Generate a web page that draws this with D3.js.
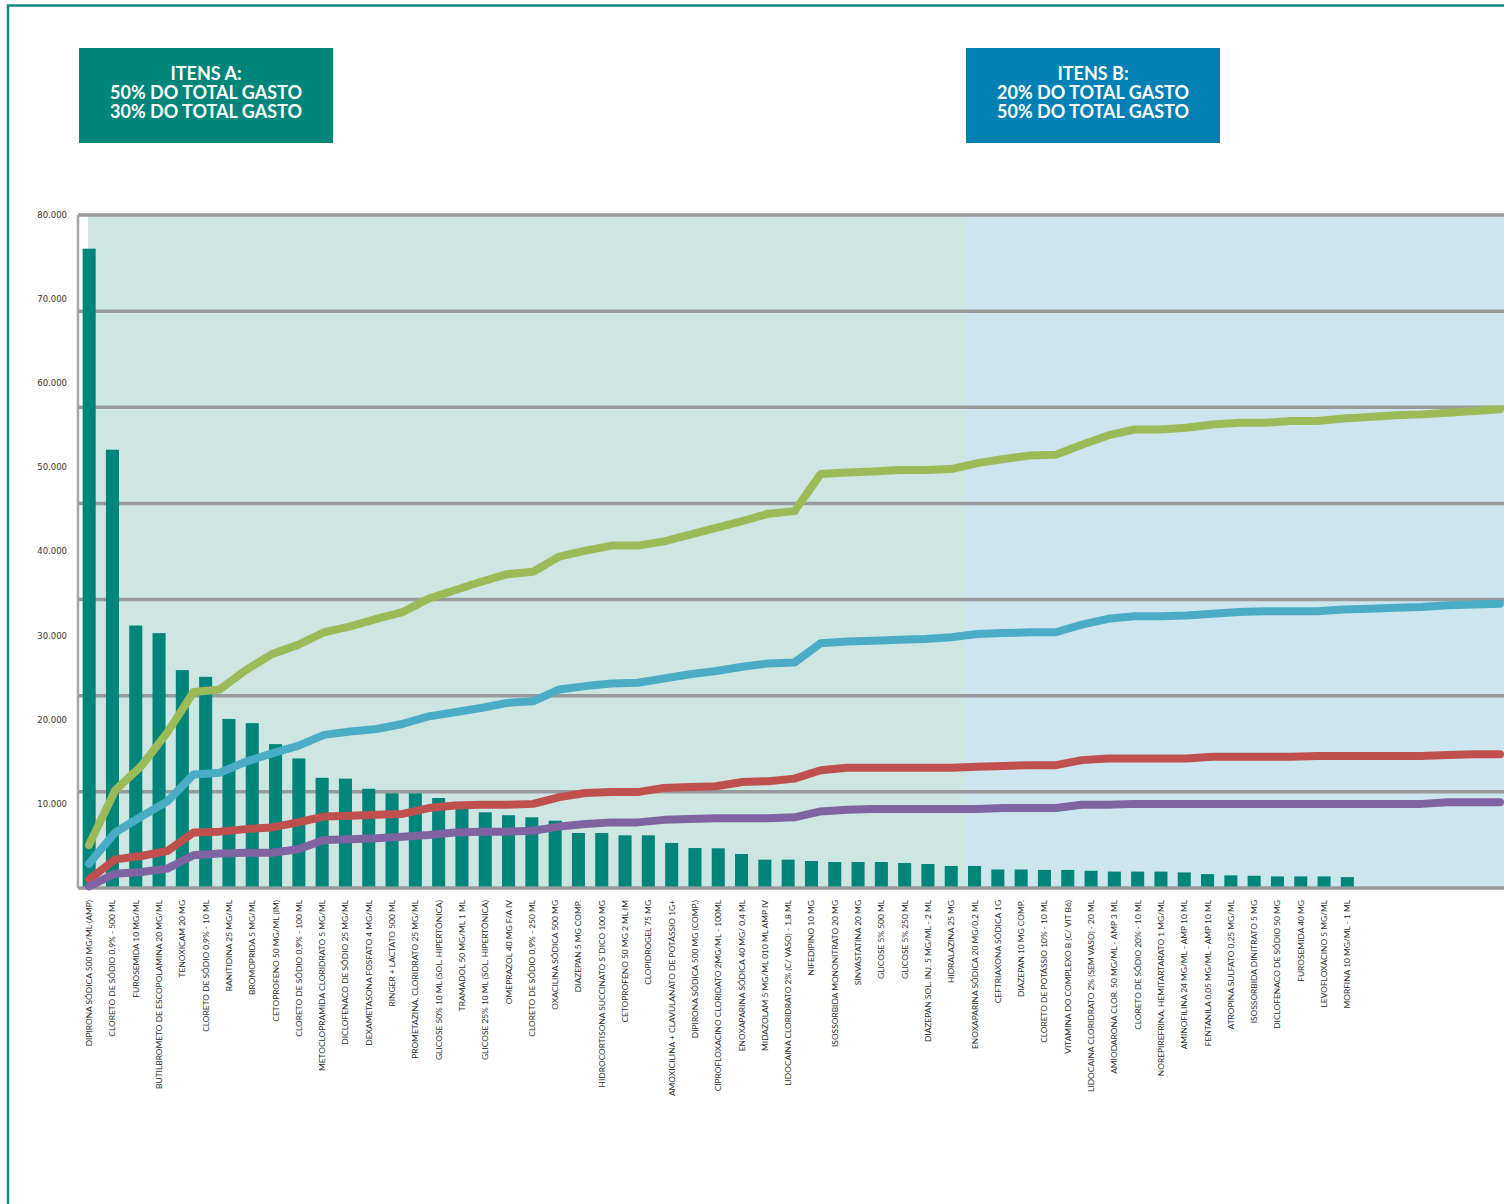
<!DOCTYPE html>
<html>
<head>
<meta charset="utf-8">
<script src="https://cdn.jsdelivr.net/npm/d3@7"></script>
<style>
  body { margin: 0; background: #fff; }
  svg { display: block; }
  .x-label { font-family: Lato, "Open Sans", sans-serif; font-size: 8.4px; fill: #2a2a2a; }
  .y-label { font-family: "DejaVu Sans", sans-serif; font-size: 8.5px; fill: #333; }
  .box-text { font-family: Lato, sans-serif; font-weight: 700; font-size: 18px; fill: #fff; }
</style>
</head>
<body>
<svg id="chart" width="1504" height="1204"></svg>
<script>
// Itens (curva ABC) na ordem do gráfico
var labels = [
  "DIPIRONA SÓDICA 500 MG/ML (AMP)", "CLORETO DE SÓDIO 0,9% - 500 ML", "FUROSEMIDA 10 MG/ML",
  "BUTILBROMETO DE ESCOPOLAMINA 20 MG/ML", "TENOXICAM 20 MG", "CLORETO DE SÓDIO 0,9% - 10 ML",
  "RANITIDINA 25 MG/ML", "BROMOPRIDA 5 MG/ML", "CETOPROFENO 50 MG/ML (IM)",
  "CLORETO DE SÓDIO 0,9% - 100 ML", "METOCLOPRAMIDA CLORIDRATO 5 MG/ML", "DICLOFENACO DE SÓDIO 25 MG/ML",
  "DEXAMETASONA FOSFATO 4 MG/ML", "RINGER + LACTATO 500 ML", "PROMETAZINA, CLORIDRATO 25 MG/ML",
  "GLICOSE 50% 10 ML (SOL. HIPERTÔNICA)", "TRAMADOL 50 MG/ML 1 ML", "GLICOSE 25% 10 ML (SOL. HIPERTÔNICA)",
  "OMEPRAZOL 40 MG F/A IV", "CLORETO DE SÓDIO 0,9% - 250 ML", "OXACILINA SÓDICA 500 MG",
  "DIAZEPAN 5 MG COMP.", "HIDROCORTISONA SUCCINATO S´DICO 100 MG", "CETOPROFENO 50 MG 2 ML IM",
  "CLOPIDROGEL 75 MG", "AMOXICILINA + CLAVULANATO DE POTÁSSIO 1G+", "DIPIRONA SÓDICA 500 MG (COMP.)",
  "CIPROFLOXACINO CLORIDATO 2MG/ML - 100ML", "ENOXAPARINA SÓDICA 40 MG/ 0,4 ML", "MIDAZOLAM 5 MG/ML 010 ML AMP IV",
  "LIDOCAINA CLORIDRATO 2% (C/ VASO) - 1,8 ML", "NIFEDIPINO 10 MG", "ISOSSORBIDA MONONITRATO 20 MG",
  "SINVASTATINA 20 MG", "GLICOSE 5% 500 ML", "GLICOSE 5% 250 ML",
  "DIAZEPAN SOL. INJ. 5 MG/ML - 2 ML", "HIDRALAZINA 25 MG", "ENOXAPARINA SÓDICA 20 MG/0,2 ML",
  "CEFTRIAXONA SÓDICA 1G", "DIAZEPAN 10 MG COMP.", "CLORETO DE POTÁSSIO 10% - 10 ML",
  "VITAMINA DO COMPLEXO B (C/ VIT B6)", "LIDOCAINA CLORIDRATO 2% (SEM VASO) - 20 ML", "AMIODARONA CLOR. 50 MG/ML - AMP 3 ML",
  "CLORETO DE SÓDIO 20% - 10 ML", "NOREPIREFRINA, HEMITARTARATO 1 MG/ML", "AMINOFILINA 24 MG/ML - AMP 10 ML",
  "FENTANILA 0,05 MG/ML - AMP 10 ML", "ATROPINA SULFATO 0,25 MG/ML", "ISOSSORBIDA DINITRATO 5 MG",
  "DICLOFENACO DE SÓDIO 50 MG", "FUROSEMIDA 40 MG", "LEVOFLOXACINO 5 MG/ML", "MORFINA 10 MG/ML - 1 ML"
];

// Barras
var gastos = [
  76000, 52100, 31200, 30300, 25900, 25100, 20100, 19600, 17100, 15400,
  13100, 13000, 11800, 11250, 11250, 10700, 9500, 9000, 8650, 8400,
  8000, 6540, 6540, 6260, 6260, 5350, 4750, 4720, 4040, 3370,
  3370, 3210, 3090, 3090, 3090, 2970, 2850, 2620, 2620, 2200,
  2200, 2150, 2150, 2050, 1950, 1950, 1950, 1850, 1650, 1500,
  1450, 1380, 1380, 1380, 1300
];

// Linhas acumuladas
var curvaVerde = [
  5100, 11600, 14500, 18500, 23300, 23600, 25900, 27800, 28900, 30400,
  31100, 32000, 32800, 34400, 35400, 36400, 37300, 37600, 39400, 40100,
  40700, 40700, 41200, 42000, 42800, 43600, 44500, 44800, 49200, 49400,
  49500, 49700, 49700, 49800, 50500, 51000, 51400, 51500, 52700, 53800,
  54500, 54500, 54700, 55100, 55300, 55300, 55500, 55500, 55800, 56000,
  56200, 56300, 56500, 56700, 56900
];
var curvaAzul = [
  2900, 6600, 8500, 10300, 13500, 13700, 15000, 16000, 16900, 18200,
  18600, 18900, 19500, 20400, 20900, 21400, 22000, 22200, 23600, 24000,
  24300, 24400, 24900, 25400, 25800, 26300, 26700, 26800, 29100, 29300,
  29400, 29500, 29600, 29800, 30200, 30300, 30400, 30400, 31300, 32000,
  32300, 32300, 32400, 32600, 32800, 32900, 32900, 32900, 33100, 33200,
  33300, 33400, 33600, 33700, 33800
];
var curvaVermelha = [
  1000, 3400, 3800, 4400, 6600, 6700, 7000, 7200, 7800, 8500,
  8600, 8700, 8800, 9500, 9800, 9900, 9900, 10000, 10800, 11300,
  11400, 11400, 11900, 12000, 12100, 12600, 12700, 13000, 14000, 14300,
  14300, 14300, 14300, 14300, 14400, 14500, 14600, 14600, 15200, 15400,
  15400, 15400, 15400, 15600, 15600, 15600, 15600, 15700, 15700, 15700,
  15700, 15700, 15800, 15900, 15900
];
var curvaRoxa = [
  200, 1700, 1900, 2300, 3900, 4100, 4200, 4200, 4600, 5700,
  5800, 5900, 6100, 6300, 6600, 6700, 6700, 6800, 7300, 7600,
  7800, 7800, 8100, 8200, 8300, 8300, 8300, 8400, 9100, 9300,
  9400, 9400, 9400, 9400, 9400, 9500, 9500, 9500, 9900, 9900,
  10000, 10000, 10000, 10000, 10000, 10000, 10000, 10000, 10000, 10000,
  10000, 10000, 10200, 10200, 10200
];

var yTicks = [10000, 20000, 30000, 40000, 50000, 60000, 70000, 80000];

var svg = d3.select("#chart");
var width = 1504;

// Moldura
svg.append("path")
  .attr("d", "M8,1204 L8,5.5 L1504,5.5")
  .attr("fill", "none")
  .attr("stroke", "#138a7d")
  .attr("stroke-width", 2.5);

// Caixas de título
var boxes = [
  { x: 79, fill: "#00857a", lines: ["ITENS A:", "50% DO TOTAL GASTO", "30% DO TOTAL GASTO"] },
  { x: 966, fill: "#0080b3", lines: ["ITENS B:", "20% DO TOTAL GASTO", "50% DO TOTAL GASTO"] }
];
var box = svg.selectAll(".box").data(boxes).enter().append("g").attr("class", "box");
box.append("rect")
  .attr("x", function(d) { return d.x; })
  .attr("y", 48)
  .attr("width", 254)
  .attr("height", 95)
  .attr("fill", function(d) { return d.fill; });
box.each(function(d) {
  d3.select(this).selectAll("text")
    .data(d.lines)
    .enter().append("text")
    .attr("class", "box-text")
    .attr("text-anchor", "middle")
    .attr("x", d.x + 127)
    .attr("y", function(t, i) { return 80 + i * 19; })
    .text(function(t) { return t; });
});

// Escalas
var plotTop = 215, plotBottom = 888, plotLeft = 78;
var y = d3.scaleLinear().domain([0, 80000]).range([plotBottom, plotTop]);
var x = d3.scaleBand().domain(labels)
  .range([77.5, 77.5 + labels.length * 23.3])
  .paddingInner(0.44).paddingOuter(0.22);
var xLine = d3.scalePoint().domain(d3.range(curvaVerde.length)).range([89, 1500]);

// Fundo das zonas A e B
svg.append("rect").attr("x", 88).attr("y", plotTop).attr("width", 965 - 88)
  .attr("height", plotBottom - plotTop).attr("fill", "#cee6e2");
svg.append("rect").attr("x", 965).attr("y", plotTop).attr("width", width - 965)
  .attr("height", plotBottom - plotTop).attr("fill", "#cde5ef");

// Linhas de grade (7 divisões, como no original)
var gridValues = d3.range(8).map(function(j) { return 80000 * j / 7; });
svg.selectAll(".grid").data(gridValues).enter().append("line")
  .attr("class", "grid")
  .attr("x1", plotLeft).attr("x2", width)
  .attr("y1", function(d) { return y(d); })
  .attr("y2", function(d) { return y(d); })
  .attr("stroke", "#999a9c")
  .attr("stroke-width", 3.5);

svg.append("line")
  .attr("x1", plotLeft).attr("x2", plotLeft)
  .attr("y1", plotTop).attr("y2", plotBottom)
  .attr("stroke", "#a6a6a6")
  .attr("stroke-width", 2.5);

// Rótulos do eixo Y
var fmt = d3.formatLocale({ decimal: ",", thousands: ".", grouping: [3] }).format(",");
svg.selectAll(".y-label").data(yTicks).enter().append("text")
  .attr("class", "y-label")
  .attr("text-anchor", "end")
  .attr("x", 67)
  .attr("y", function(d) { return y(d); })
  .attr("dy", "0.35em")
  .text(function(d) { return fmt(d); });

// Barras
svg.selectAll(".bar").data(gastos).enter().append("rect")
  .attr("class", "bar")
  .attr("x", function(d, i) { return x(labels[i]); })
  .attr("width", x.bandwidth())
  .attr("y", function(d) { return y(d); })
  .attr("height", function(d) { return plotBottom - 1.5 - y(d); })
  .attr("fill", "#00857a");

// Linhas
var series = [
  { values: curvaVerde, color: "#9bbb59" },
  { values: curvaAzul, color: "#4bacc6" },
  { values: curvaVermelha, color: "#c0504d" },
  { values: curvaRoxa, color: "#8064a2" }
];
var line = d3.line()
  .x(function(d, i) { return xLine(i); })
  .y(function(d) { return y(d); });
svg.selectAll(".serie").data(series).enter().append("path")
  .attr("class", "serie")
  .attr("d", function(d) { return line(d.values); })
  .attr("fill", "none")
  .attr("stroke", function(d) { return d.color; })
  .attr("stroke-width", 8)
  .attr("stroke-linejoin", "round")
  .attr("stroke-linecap", "round");

// Rótulos do eixo X
var xAxis = svg.append("g")
  .attr("transform", "translate(0," + (plotBottom + 12) + ")")
  .call(d3.axisBottom(x).tickSize(0).tickPadding(0));
xAxis.select(".domain").remove();
xAxis.selectAll("text")
  .attr("class", "x-label")
  .attr("fill", null)
  .attr("text-anchor", "end")
  .attr("transform", "rotate(-90)")
  .attr("x", 0)
  .attr("y", 0)
  .attr("dy", "0.35em");
xAxis.attr("font-size", null).attr("font-family", null);
</script>
</body>
</html>
